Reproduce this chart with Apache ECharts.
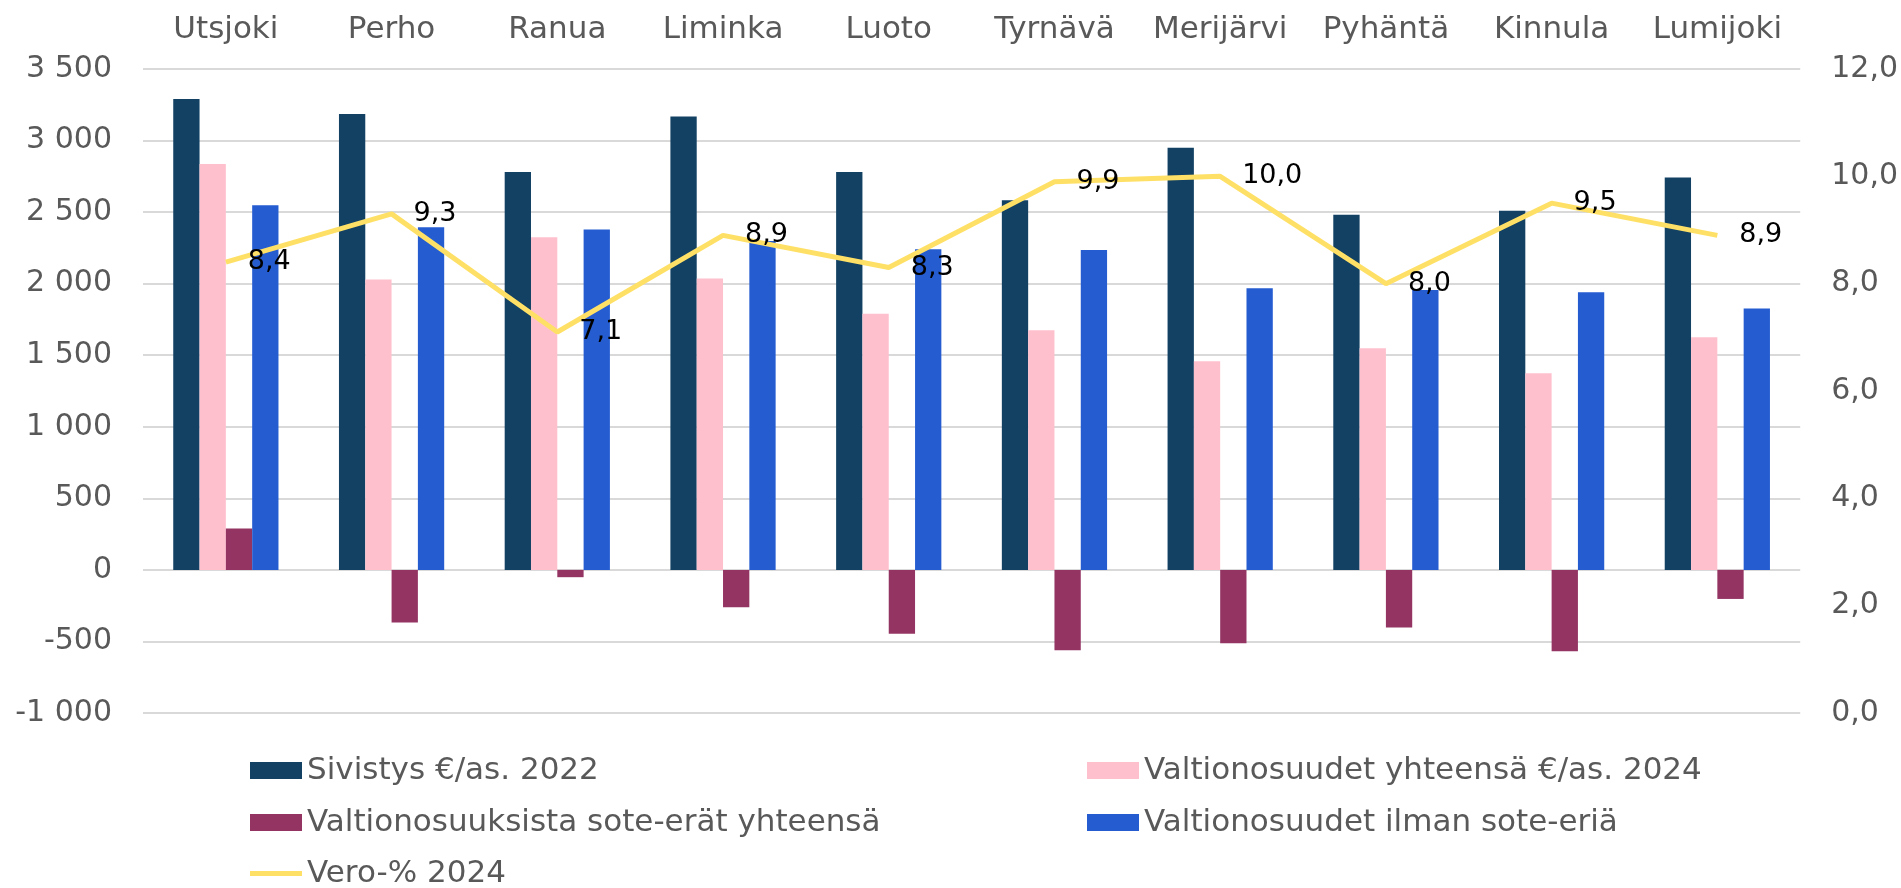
<!DOCTYPE html>
<html>
<head>
<meta charset="utf-8">
<script src="https://cdn.jsdelivr.net/npm/echarts@6/dist/echarts.min.js"></script>
<style>
html,body{margin:0;padding:0;background:#fff;}
#chart{width:1901px;height:888px;}
</style>
</head>
<body>
<div id="chart"></div>
<script>
const categories = ['Utsjoki','Perho','Ranua','Liminka','Luoto','Tyrnävä','Merijärvi','Pyhäntä','Kinnula','Lumijoki'];
const sivistys = [3290, 3185, 2780, 3168, 2780, 2583, 2950, 2481, 2509, 2742];
const voYhteensa = [2837, 2029, 2325, 2036, 1789, 1675, 1458, 1549, 1374, 1626];
const soteErat = [289, -368, -51, -261, -447, -561, -512, -403, -568, -203];
const voIlmanSote = [2548, 2395, 2378, 2299, 2241, 2236, 1968, 1955, 1940, 1826];
const veroPros = [8.4, 9.3, 7.1, 8.9, 8.3, 9.9, 10.0, 8.0, 9.5, 8.9];
const leftTicks = {min: -1000, max: 3500, interval: 500};
const rightTicks = {min: 0, max: 12, interval: 2};

const FONT = 'DejaVu Sans';
const GRAY = '#595959';
function thousands(v){
  const s = Math.abs(v).toString().replace(/\B(?=(\d{3})+(?!\d))/g, ' ');
  return (v < 0 ? '-' : '') + s;
}
function dec1(v){ return Number(v).toFixed(1).replace('.', ','); }

const chart = echarts.init(document.getElementById('chart'));
const legendText = {color: GRAY, fontSize: 31, fontFamily: FONT};
function leg(left, top, item){
  return {
    orient: 'horizontal', left: left, top: top, itemWidth: 52, itemHeight: 17, itemGap: 6,
    icon: 'rect', textStyle: legendText, selectedMode: false, padding: 0,
    data: [item]
  };
}
chart.setOption({
  animation: false,
  grid: {left: 143, right: 94, top: 69, bottom: 175, containLabel: false},
  xAxis: {
    type: 'category', position: 'top', data: categories,
    axisLine: {show: false}, axisTick: {show: false},
    axisLabel: {color: GRAY, fontSize: 31, fontFamily: FONT, margin: 24, interval: 0}
  },
  yAxis: [{
    type: 'value', min: leftTicks.min, max: leftTicks.max, interval: leftTicks.interval,
    axisLine: {show: false}, axisTick: {show: false},
    splitLine: {lineStyle: {color: '#D9D9D9', width: 2}},
    axisLabel: {color: GRAY, fontSize: 30, fontFamily: FONT, margin: 31, formatter: thousands}
  }, {
    type: 'value', min: rightTicks.min, max: rightTicks.max, interval: rightTicks.interval,
    axisLine: {show: false}, axisTick: {show: false}, splitLine: {show: false},
    axisLabel: {color: GRAY, fontSize: 30, fontFamily: FONT, margin: 31, formatter: dec1}
  }],
  legend: [
    leg(250, 755, 'Sivistys €/as. 2022'),
    leg(1087, 755, 'Valtionosuudet yhteensä €/as. 2024'),
    leg(250, 807, 'Valtionosuuksista sote-erät yhteensä'),
    leg(1087, 807, 'Valtionosuudet ilman sote-eriä'),
    Object.assign(leg(250, 858, {name: 'Vero-% 2024', icon: 'path://M0,0 L52,0 L52,5 L0,5 Z'}), {itemHeight: 5})
  ],
  series: [{
    name: 'Sivistys €/as. 2022', type: 'bar', data: sivistys,
    barGap: '0%', barCategoryGap: '36.5%', itemStyle: {color: '#124164'}
  }, {
    name: 'Valtionosuudet yhteensä €/as. 2024', type: 'bar', data: voYhteensa,
    barGap: '0%', barCategoryGap: '36.5%', itemStyle: {color: '#FFC0CE'}
  }, {
    name: 'Valtionosuuksista sote-erät yhteensä', type: 'bar', data: soteErat,
    barGap: '0%', barCategoryGap: '36.5%', itemStyle: {color: '#943463'}
  }, {
    name: 'Valtionosuudet ilman sote-eriä', type: 'bar', data: voIlmanSote,
    barGap: '0%', barCategoryGap: '36.5%', itemStyle: {color: '#255DD1'}
  }, {
    name: 'Vero-% 2024', type: 'line', yAxisIndex: 1, data: veroPros, z: 5,
    symbol: 'circle', symbolSize: 0, showSymbol: true,
    lineStyle: {color: '#FFE066', width: 5}, itemStyle: {color: '#FFE066'},
    label: {show: true, position: 'right', distance: 22, color: '#000', fontSize: 27,
      fontFamily: FONT, formatter: p => dec1(p.value)}
  }]
});
</script>
</body>
</html>
